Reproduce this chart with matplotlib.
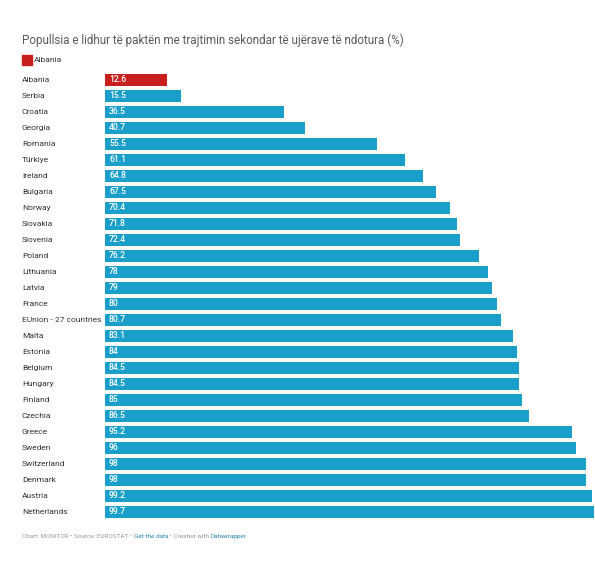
import matplotlib.pyplot as plt

countries = ["Albania", "Serbia", "Croatia", "Georgia", "Romania", "Türkiye", "Ireland",
             "Bulgaria", "Norway", "Slovakia", "Slovenia", "Poland", "Lithuania", "Latvia",
             "France", "EUnion - 27 countries", "Malta", "Estonia", "Belgium", "Hungary",
             "Finland", "Czechia", "Greece", "Sweden", "Switzerland", "Denmark", "Austria",
             "Netherlands"]
values = [12.6, 15.5, 36.5, 40.7, 55.5, 61.1, 64.8, 67.5, 70.4, 71.8, 72.4, 76.2, 78, 79,
          80, 80.7, 83.1, 84, 84.5, 84.5, 85, 86.5, 95.2, 96, 98, 98, 99.2, 99.7]
labels = ["12.6", "15.5", "36.5", "40.7", "55.5", "61.1", "64.8", "67.5", "70.4", "71.8",
          "72.4", "76.2", "78", "79", "80", "80.7", "83.1", "84", "84.5", "84.5", "85", "86.5",
          "95.2", "96", "98", "98", "99.2", "99.7"]

blue = "#1a9fca"
red = "#c71f1e"
plt.rcParams["font.family"] = ["Roboto", "DejaVu Sans"]

W, H = 595, 563
fig = plt.figure(figsize=(W / 100, H / 100), dpi=100)
ax = fig.add_axes([105 / W, (H - 520) / H, (594 - 105) / W, 448 / H])

n = len(countries)
ys = list(range(n))
colors = [red if c == "Albania" else blue for c in countries]
ax.barh(ys, values, height=0.8, color=colors)
ax.set_ylim(n - 0.5, -0.5)
ax.set_xlim(0, 99.7)
ax.axis("off")

for y, v, lab, c in zip(ys, values, labels, countries):
    ax.annotate(lab, xy=(0, y), xytext=(4, 0), textcoords="offset pixels",
                color="white", fontsize=6.2, fontweight="medium", va="center", ha="left")
    ax.annotate(c, xy=(0, y), xycoords=("figure fraction", "data"), xytext=(22, 0),
                textcoords="offset pixels", fontsize=6, color="#333333", va="center", ha="left")

fig.text(22 / W, 1 - 40 / H, "Popullsia e lidhur të paktën me trajtimin sekondar të ujërave të ndotura (%)",
         fontsize=8.4, color="#5a5a5a", va="center", ha="left")
fig.patches.append(plt.Rectangle((22 / W, 1 - 65 / H), 10 / W, 10 / H, transform=fig.transFigure,
                                 color=red, figure=fig))
fig.text(34 / W, 1 - 60 / H, "Albania", fontsize=6, color="#333333", va="center", ha="left")

fig.canvas.draw()
r = fig.canvas.get_renderer()
x = 22
for s, col in [("Chart: MONITOR • Source: EUROSTAT • ", "#999999"), ("Get the data", "#2a86b0"),
               (" • Created with ", "#999999"), ("Datawrapper", "#2a86b0")]:
    tt = fig.text(x / W, 1 - 538 / H, s, fontsize=4.6, color=col, va="baseline", ha="left")
    x += tt.get_window_extent(r).width

fig.savefig("out.png", dpi=100, facecolor="white")
